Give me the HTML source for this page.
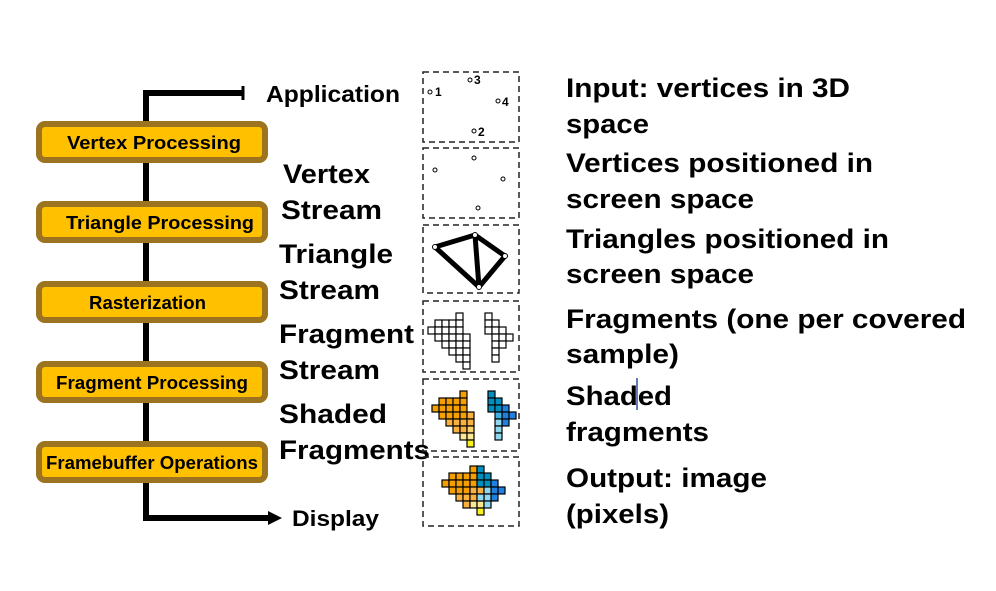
<!DOCTYPE html>
<html><head><meta charset="utf-8"><style>
body{margin:0;background:#fff;width:996px;height:586px;overflow:hidden}
svg text{font-family:"Liberation Sans",Arial,sans-serif;font-weight:bold;fill:#000}
</style></head><body>
<svg width="996" height="586" viewBox="0 0 996 586" xmlns="http://www.w3.org/2000/svg">
<polyline points="243,93 146,93 146,518 270,518" fill="none" stroke="#000" stroke-width="6"/>
<line x1="243" y1="86" x2="243" y2="100" stroke="#000" stroke-width="3"/>
<polygon points="268,511 282,518 268,525" fill="#000"/>
<g fill="#ffc000" stroke="#9c7420" stroke-width="6">
<rect x="39" y="124" width="226" height="36" rx="6"/>
<rect x="39" y="204" width="226" height="36" rx="6"/>
<rect x="39" y="284" width="226" height="36" rx="6"/>
<rect x="39" y="364" width="226" height="36" rx="6"/>
<rect x="39" y="444" width="226" height="36" rx="6"/>
</g>
<g font-size="18" lengthAdjust="spacingAndGlyphs">
<text x="67" y="149" textLength="174" lengthAdjust="spacingAndGlyphs">Vertex Processing</text>
<text x="66" y="229" textLength="188" lengthAdjust="spacingAndGlyphs">Triangle Processing</text>
<text x="89" y="309" textLength="117" lengthAdjust="spacingAndGlyphs">Rasterization</text>
<text x="56" y="389" textLength="192" lengthAdjust="spacingAndGlyphs">Fragment Processing</text>
<text x="46" y="469" textLength="212" lengthAdjust="spacingAndGlyphs">Framebuffer Operations</text>
</g>
<text x="266" y="102" font-size="23" textLength="134" lengthAdjust="spacingAndGlyphs">Application</text>
<text x="292" y="526" font-size="22" textLength="87" lengthAdjust="spacingAndGlyphs">Display</text>
<g font-size="27">
<text x="283" y="183" textLength="87" lengthAdjust="spacingAndGlyphs">Vertex</text>
<text x="281" y="219" textLength="101" lengthAdjust="spacingAndGlyphs">Stream</text>
<text x="279" y="263" textLength="114" lengthAdjust="spacingAndGlyphs">Triangle</text>
<text x="279" y="299" textLength="101" lengthAdjust="spacingAndGlyphs">Stream</text>
<text x="279" y="343" textLength="135" lengthAdjust="spacingAndGlyphs">Fragment</text>
<text x="279" y="379" textLength="101" lengthAdjust="spacingAndGlyphs">Stream</text>
<text x="279" y="423" textLength="108" lengthAdjust="spacingAndGlyphs">Shaded</text>
<text x="279" y="459" textLength="151" lengthAdjust="spacingAndGlyphs">Fragments</text>
<text x="566" y="97" textLength="284" lengthAdjust="spacingAndGlyphs">Input: vertices in 3D</text>
<text x="566" y="133" textLength="83" lengthAdjust="spacingAndGlyphs">space</text>
<text x="566" y="172" textLength="307" lengthAdjust="spacingAndGlyphs">Vertices positioned in</text>
<text x="566" y="208" textLength="188" lengthAdjust="spacingAndGlyphs">screen space</text>
<text x="566" y="248" textLength="323" lengthAdjust="spacingAndGlyphs">Triangles positioned in</text>
<text x="566" y="283" textLength="188" lengthAdjust="spacingAndGlyphs">screen space</text>
<text x="566" y="328" textLength="400" lengthAdjust="spacingAndGlyphs">Fragments (one per covered</text>
<text x="566" y="363" textLength="113" lengthAdjust="spacingAndGlyphs">sample)</text>
<text x="566" y="405" textLength="106" lengthAdjust="spacingAndGlyphs">Shaded</text>
<text x="566" y="441" textLength="143" lengthAdjust="spacingAndGlyphs">fragments</text>
<text x="566" y="487" textLength="201" lengthAdjust="spacingAndGlyphs">Output: image</text>
<text x="566" y="523" textLength="103" lengthAdjust="spacingAndGlyphs">(pixels)</text>
</g>
<line x1="637" y1="378" x2="637" y2="410" stroke="#3050a0" stroke-width="1.5"/>
<g fill="none" stroke="#222" stroke-width="1.5" stroke-dasharray="6,4">
<rect x="423" y="72" width="96" height="70"/>
<rect x="423" y="148" width="96" height="70"/>
<rect x="423" y="225" width="96" height="68"/>
<rect x="423" y="301" width="96" height="71"/>
<rect x="423" y="379" width="96" height="72"/>
<rect x="423" y="457" width="96" height="69"/>
</g>
<g fill="#fff" stroke="#000" stroke-width="1">
<circle cx="430" cy="92" r="2"/><circle cx="470" cy="80" r="2"/><circle cx="498" cy="101" r="2"/><circle cx="474" cy="131" r="2"/>
<circle cx="435" cy="170" r="2"/><circle cx="474" cy="158" r="2"/><circle cx="503" cy="179" r="2"/><circle cx="478" cy="208" r="2"/>
</g>
<g font-size="12">
<text x="435" y="96" font-weight="normal">1</text><text x="474" y="84" font-weight="normal">3</text>
<text x="502" y="106" font-weight="normal">4</text><text x="478" y="136" font-weight="normal">2</text>
</g>
<g stroke="#000" stroke-width="5" fill="none" stroke-linejoin="round">
<polygon points="435,247 475,235 505,256 479,287"/>
<line x1="475" y1="235" x2="479" y2="287"/>
</g>
<g fill="#fff" stroke="#000" stroke-width="1">
<circle cx="435" cy="247" r="2.5"/><circle cx="475" cy="235" r="2.5"/><circle cx="505" cy="256" r="2.5"/><circle cx="479" cy="287" r="2.5"/>
</g>
<g stroke="#000" stroke-width="1.2" fill="#fff">
<rect x="456" y="313" width="7" height="7"/>
<rect x="435" y="320" width="7" height="7"/><rect x="442" y="320" width="7" height="7"/><rect x="449" y="320" width="7" height="7"/><rect x="456" y="320" width="7" height="7"/>
<rect x="428" y="327" width="7" height="7"/><rect x="435" y="327" width="7" height="7"/><rect x="442" y="327" width="7" height="7"/><rect x="449" y="327" width="7" height="7"/><rect x="456" y="327" width="7" height="7"/>
<rect x="435" y="334" width="7" height="7"/><rect x="442" y="334" width="7" height="7"/><rect x="449" y="334" width="7" height="7"/><rect x="456" y="334" width="7" height="7"/><rect x="463" y="334" width="7" height="7"/>
<rect x="442" y="341" width="7" height="7"/><rect x="449" y="341" width="7" height="7"/><rect x="456" y="341" width="7" height="7"/><rect x="463" y="341" width="7" height="7"/>
<rect x="449" y="348" width="7" height="7"/><rect x="456" y="348" width="7" height="7"/><rect x="463" y="348" width="7" height="7"/>
<rect x="456" y="355" width="7" height="7"/><rect x="463" y="355" width="7" height="7"/>
<rect x="463" y="362" width="7" height="7"/>
<rect x="485" y="313" width="7" height="7"/>
<rect x="485" y="320" width="7" height="7"/><rect x="492" y="320" width="7" height="7"/>
<rect x="485" y="327" width="7" height="7"/><rect x="492" y="327" width="7" height="7"/><rect x="499" y="327" width="7" height="7"/>
<rect x="492" y="334" width="7" height="7"/><rect x="499" y="334" width="7" height="7"/><rect x="506" y="334" width="7" height="7"/>
<rect x="492" y="341" width="7" height="7"/><rect x="499" y="341" width="7" height="7"/>
<rect x="492" y="348" width="7" height="7"/>
<rect x="492" y="355" width="7" height="7"/>
</g>
<g stroke="#000" stroke-width="1.2">
<rect x="460" y="391" width="7" height="7" fill="#f5a000"/>
<g fill="#f5a000"><rect x="439" y="398" width="7" height="7"/><rect x="446" y="398" width="7" height="7"/><rect x="453" y="398" width="7" height="7"/><rect x="460" y="398" width="7" height="7"/>
<rect x="432" y="405" width="7" height="7"/><rect x="439" y="405" width="7" height="7"/><rect x="446" y="405" width="7" height="7"/><rect x="453" y="405" width="7" height="7"/><rect x="460" y="405" width="7" height="7"/>
<rect x="439" y="412" width="7" height="7"/><rect x="446" y="412" width="7" height="7"/><rect x="453" y="412" width="7" height="7"/><rect x="460" y="412" width="7" height="7"/></g>
<rect x="467" y="412" width="7" height="7" fill="#f8b040"/>
<g fill="#f8b040"><rect x="446" y="419" width="7" height="7"/><rect x="453" y="419" width="7" height="7"/><rect x="460" y="419" width="7" height="7"/><rect x="467" y="419" width="7" height="7"/>
<rect x="453" y="426" width="7" height="7"/><rect x="460" y="426" width="7" height="7"/></g>
<rect x="467" y="426" width="7" height="7" fill="#fad070"/>
<rect x="460" y="433" width="7" height="7" fill="#fbe890"/><rect x="467" y="433" width="7" height="7" fill="#fbe890"/>
<rect x="467" y="440" width="7" height="7" fill="#f8f020"/>
<g fill="#0090c0"><rect x="488" y="391" width="7" height="7"/><rect x="488" y="398" width="7" height="7"/><rect x="495" y="398" width="7" height="7"/><rect x="488" y="405" width="7" height="7"/><rect x="495" y="405" width="7" height="7"/></g>
<g fill="#2080e0"><rect x="502" y="405" width="7" height="7"/><rect x="502" y="412" width="7" height="7"/><rect x="509" y="412" width="7" height="7"/><rect x="502" y="419" width="7" height="7"/></g>
<g fill="#40b0e0"><rect x="495" y="412" width="7" height="7"/></g>
<g fill="#90d8f0"><rect x="495" y="419" width="7" height="7"/><rect x="495" y="426" width="7" height="7"/><rect x="495" y="433" width="7" height="7"/></g>
</g>
<g stroke="#000" stroke-width="1.2">
<g fill="#f5a000">
<rect x="470" y="466" width="7" height="7"/>
<rect x="449" y="473" width="7" height="7"/><rect x="456" y="473" width="7" height="7"/><rect x="463" y="473" width="7" height="7"/><rect x="470" y="473" width="7" height="7"/>
<rect x="442" y="480" width="7" height="7"/><rect x="449" y="480" width="7" height="7"/><rect x="456" y="480" width="7" height="7"/><rect x="463" y="480" width="7" height="7"/><rect x="470" y="480" width="7" height="7"/>
<rect x="449" y="487" width="7" height="7"/><rect x="456" y="487" width="7" height="7"/><rect x="463" y="487" width="7" height="7"/></g>
<g fill="#f8b040"><rect x="470" y="487" width="7" height="7"/><rect x="477" y="487" width="7" height="7"/>
<rect x="456" y="494" width="7" height="7"/><rect x="463" y="494" width="7" height="7"/><rect x="470" y="494" width="7" height="7"/>
<rect x="463" y="501" width="7" height="7"/></g>
<g fill="#fbe890"><rect x="470" y="501" width="7" height="7"/><rect x="477" y="501" width="7" height="7"/></g>
<rect x="477" y="508" width="7" height="7" fill="#f8f020"/>
<g fill="#0090c0"><rect x="477" y="466" width="7" height="7"/><rect x="477" y="473" width="7" height="7"/><rect x="484" y="473" width="7" height="7"/><rect x="477" y="480" width="7" height="7"/><rect x="484" y="480" width="7" height="7"/></g>
<g fill="#2080e0"><rect x="491" y="480" width="7" height="7"/><rect x="491" y="487" width="7" height="7"/><rect x="498" y="487" width="7" height="7"/><rect x="491" y="494" width="7" height="7"/></g>
<g fill="#90d8f0"><rect x="484" y="487" width="7" height="7"/><rect x="484" y="494" width="7" height="7"/><rect x="477" y="494" width="7" height="7"/><rect x="484" y="501" width="7" height="7"/></g>
</g>
</svg>
</body></html>
